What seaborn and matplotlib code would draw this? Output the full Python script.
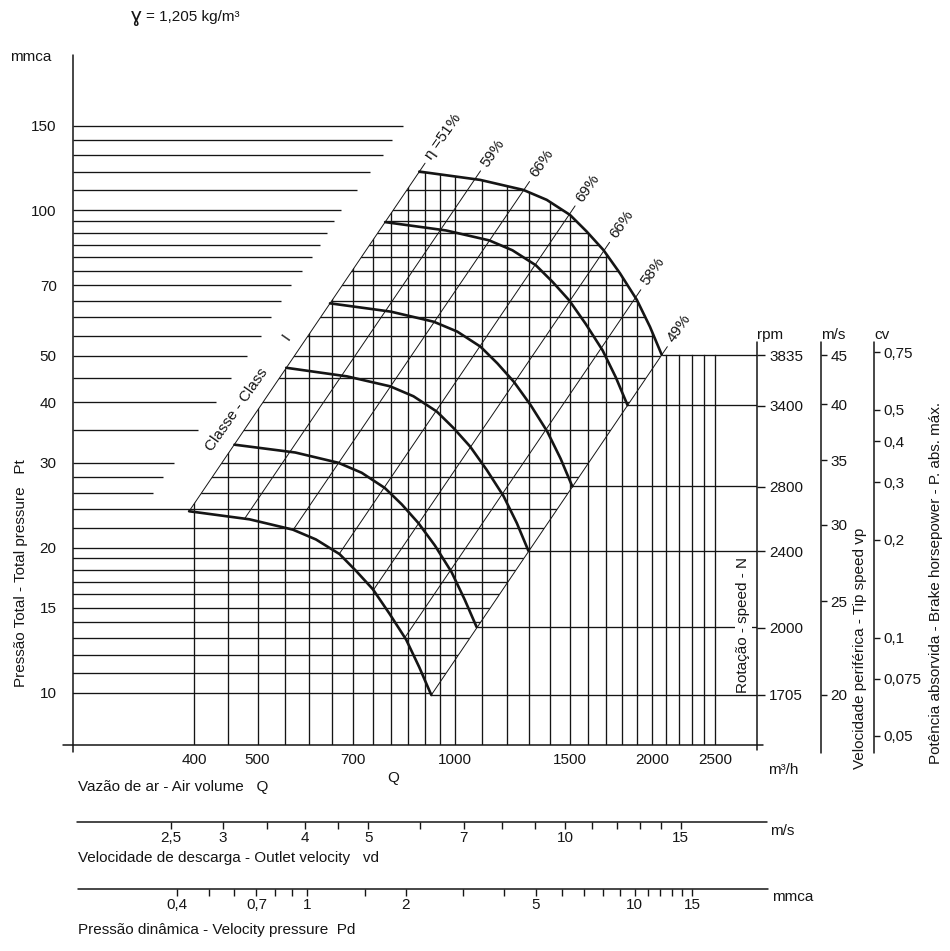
import numpy as np
import pandas as pd
import matplotlib.pyplot as plt
import seaborn as sns
from matplotlib.lines import Line2D
from matplotlib.patches import Polygon
from matplotlib.ticker import NullLocator, NullFormatter

W, H = 950, 951
INK = "#151515"

# fan curves, air volume Q (m3/h) vs total pressure Pt (mmca), one per speed
rpm_levels = [3835, 3400, 2800, 2400, 2000, 1705]
q_3835 = [883, 1094, 1273, 1382, 1500, 1591, 1687, 1788, 1897, 1987, 2071]
pt_3835 = [120.4, 115.7, 110.3, 105.2, 97.9, 90.4, 82.8, 74.1, 65.3, 57.4, 50.2]
q_3400 = [783, 970, 1129, 1225, 1330, 1411, 1496, 1585, 1682, 1762, 1836]
pt_3400 = [94.6, 90.9, 86.7, 82.7, 77.0, 71.1, 65.1, 58.2, 51.3, 45.1, 39.5]
q_2800 = [645, 799, 929, 1009, 1095, 1162, 1232, 1306, 1385, 1451, 1512]
pt_2800 = [64.2, 61.7, 58.8, 56.1, 52.2, 48.2, 44.1, 39.5, 34.8, 30.6, 26.8]
q_2400 = [553, 685, 797, 865, 939, 996, 1056, 1119, 1187, 1244, 1296]
pt_2400 = [47.2, 45.3, 43.2, 41.2, 38.3, 35.4, 32.4, 29.0, 25.6, 22.5, 19.7]
q_2000 = [461, 571, 664, 721, 782, 830, 880, 933, 989, 1036, 1080]
pt_2000 = [32.7, 31.5, 30.0, 28.6, 26.6, 24.6, 22.5, 20.2, 17.8, 15.6, 13.7]
q_1705 = [393, 486, 566, 614, 667, 707, 750, 795, 843, 883, 921]
pt_1705 = [23.8, 22.9, 21.8, 20.8, 19.4, 17.9, 16.4, 14.6, 12.9, 11.3, 9.9]

# efficiency lines (from the lowest curve up past the top curve)
eff_labels = ["\u03b7 =51%", "59%", "66%", "69%", "66%", "58%", "49%"]
eff_q_low = [393, 477.5, 567, 666, 751, 838.5, 921]
eff_pt_low = [23.8, 22.95, 21.8, 19.4, 16.33, 13.0, 9.9]
eff_q_high = [901, 1095, 1301, 1527, 1724, 1924, 2112]
eff_pt_high = [125.3, 120.8, 114.8, 102.2, 85.9, 68.5, 52.2]

# grid
grid_q = [400, 450, 500, 550, 600, 650, 700, 750, 800, 850, 900, 950, 1000,
          1100, 1200, 1300, 1400, 1500, 1600, 1700, 1800, 1900, 2000,
          2100, 2200, 2300, 2400, 2500]
grid_pt = [120, 110, 100, 95, 90, 85, 80, 75, 70, 65, 60, 55, 50, 45, 40, 35,
           30, 28, 26, 24, 22, 20, 19, 18, 17, 16, 15, 14, 13, 12, 11, 10]
stub_pt = [150, 140, 130, 120, 110, 100, 95, 90, 85, 80, 75, 70, 65, 60, 55,
           50, 45, 40, 35, 30, 28, 26]
stub_q_end = [833, 803, 776, 743, 709, 671, 655, 639, 623, 606, 584, 563, 543,
              524, 506, 482, 456, 432, 405, 373, 359, 346]

# scales
y_ticks = [10, 15, 20, 30, 40, 50, 70, 100, 150]
x_ticks = [400, 500, 700, 1000, 1500, 2000, 2500]
rpm_ticks = [1705, 2000, 2400, 2800, 3400, 3835]
tip_ticks = [20, 25, 30, 35, 40, 45]
cv_ticks = [0.05, 0.075, 0.1, 0.2, 0.3, 0.4, 0.5, 0.75]
cv_labels = ["0,05", "0,075", "0,1", "0,2", "0,3", "0,4", "0,5", "0,75"]
vd_ticks = [2.5, 3, 4, 5, 7, 10, 15]
vd_labels = ["2,5", "3", "4", "5", "7", "10", "15"]
vd_minor = [3.5, 4.5, 6, 8, 9, 11, 12, 13, 14]
pd_ticks = [0.4, 0.7, 1, 2, 5, 10, 15]
pd_labels = ["0,4", "0,7", "1", "2", "5", "10", "15"]
pd_minor = [0.5, 0.6, 0.8, 0.9, 1.5, 3, 4, 6, 7, 8, 9, 11, 12, 13, 14]

c_rpm = 3.41e-6            # Pt = c * N^2
rpm_per_tip = 3835 / 45    # rpm per m/s of tip speed
cv_ref, pt_cv_ref, cv_exp = 0.75, 50.8, 0.676
q_per_vd = 147.5           # m3/h per m/s outlet velocity
rho, g = 1.205, 9.81

sns.set_theme(style="white")
plt.rcParams["font.family"] = ["Liberation Sans", "DejaVu Sans"]
plt.rcParams["text.color"] = INK
FS = 11


def fx(x):
    return x / W


def fy(y):
    return 1 - y / H


fig = plt.figure(figsize=(W / 100, H / 100), dpi=100)
ax = fig.add_axes([fx(72.7), fy(745), (757.3 - 72.7) / W, 690 / H])
ax.set_xscale("log")
ax.set_yscale("log")
XL, YL = (261, 2898), (7.8, 210)

curves = pd.DataFrame({
    "rpm": np.repeat(rpm_levels, len(q_3835)),
    "Q": q_3835 + q_3400 + q_2800 + q_2400 + q_2000 + q_1705,
    "Pt": pt_3835 + pt_3400 + pt_2800 + pt_2400 + pt_2000 + pt_1705,
})
eff = pd.DataFrame({
    "line": np.tile(np.arange(len(eff_labels)), 2),
    "Q": eff_q_low + eff_q_high,
    "Pt": eff_pt_low + eff_pt_high,
})

# clip regions for the grid, built from the boundary curves
k51 = eff_pt_low[0] / eff_q_low[0] ** 2
k49 = eff_pt_low[-1] / eff_q_low[-1] ** 2
qa, qb = 200.0, 4000.0
h_region = ([(qa, 9.6), (qa, 24.6), (np.sqrt(24.6 / k51), 24.6)]
            + list(zip(q_3835, pt_3835)) + [(np.sqrt(9.6 / k49), 9.6)])
v_region = ([(np.sqrt(6.0 / k51), 6.0)] + list(zip(q_3835, pt_3835))
            + [(qb, pt_3835[-1]), (qb, 6.0)])
h_patch = Polygon(h_region, closed=True, transform=ax.transData)
v_patch = Polygon(v_region, closed=True, transform=ax.transData)

hl = ax.hlines(grid_pt, qa, qb, color=INK, lw=0.95)
hl.set_clip_path(h_patch)
vl = ax.vlines(grid_q, 6.0, 300, color=INK, lw=0.95)
vl.set_clip_path(v_patch)
ax.hlines(stub_pt, XL[0], stub_q_end, color=INK, lw=0.95)

# speed lines from each curve end to the rpm scale
ends = curves.groupby("rpm", sort=False).last()
ax.hlines(ends["Pt"], ends["Q"], XL[1], color=INK, lw=0.95)

sns.lineplot(data=eff, x="Q", y="Pt", units="line", estimator=None, sort=False,
             color=INK, lw=0.7, ax=ax, legend=False)
sns.lineplot(data=curves, x="Q", y="Pt", units="rpm", estimator=None, sort=False,
             color=INK, lw=1.9, ax=ax, legend=False)

for lab, q, p in zip(eff_labels, eff_q_high, eff_pt_high):
    ax.annotate(lab, xy=(q, p), xytext=(2.5, 4.0), textcoords="offset points",
                rotation=55, rotation_mode="anchor", ha="left", va="center",
                fontsize=FS)

ax.set_xlim(*XL)
ax.set_ylim(*YL)
ax.set_xlabel("")
ax.set_ylabel("")
for s in ax.spines.values():
    s.set_visible(False)
ax.xaxis.set_minor_locator(NullLocator())
ax.yaxis.set_minor_locator(NullLocator())
ax.set_yticks(y_ticks, labels=[str(v) for v in y_ticks])
ax.set_xticks(x_ticks, labels=[str(v) for v in x_ticks])
ax.tick_params(axis="y", direction="out", length=8, width=1.0, pad=3.5,
               labelsize=FS, colors=INK)
ax.tick_params(axis="x", length=0, pad=6, labelsize=FS, colors=INK)


# right-hand scales
def add_right(loc, fwd, inv, ticks, labels, length):
    sec = ax.secondary_yaxis(loc, functions=(fwd, inv))
    sec.set_yticks(ticks, labels=labels)
    sec.yaxis.set_minor_locator(NullLocator())
    sec.yaxis.set_minor_formatter(NullFormatter())
    sec.tick_params(axis="y", direction="out", length=length, width=1.0,
                    pad=2.5, labelsize=FS, colors=INK)
    for s in sec.spines.values():
        s.set_visible(False)
    return sec


add_right(1.0, lambda p: np.sqrt(np.clip(p, 1e-9, None) / c_rpm),
          lambda n: c_rpm * np.asarray(n, float) ** 2,
          rpm_ticks, [str(v) for v in rpm_ticks], 6)
add_right((820.7 - 72.7) / 684.6,
          lambda p: np.sqrt(np.clip(p, 1e-9, None) / c_rpm) / rpm_per_tip,
          lambda v: c_rpm * (np.asarray(v, float) * rpm_per_tip) ** 2,
          tip_ticks, [str(v) for v in tip_ticks], 4.5)
add_right((874 - 72.7) / 684.6,
          lambda p: cv_ref * (np.clip(p, 1e-9, None) / pt_cv_ref) ** (1 / cv_exp),
          lambda w: pt_cv_ref * (np.clip(np.asarray(w, float), 1e-9, None) / cv_ref) ** cv_exp,
          cv_ticks, cv_labels, 4.5)


# bottom scales
def add_bottom(loc, fwd, inv, ticks, labels, minor):
    sec = ax.secondary_xaxis(loc, functions=(fwd, inv))
    sec.set_xticks(ticks, labels=labels)
    sec.set_xticks(minor, minor=True)
    sec.xaxis.set_minor_formatter(NullFormatter())
    sec.tick_params(axis="x", which="both", direction="out", length=5,
                    width=1.0, pad=1.0, labelsize=FS, colors=INK)
    for s in sec.spines.values():
        s.set_visible(False)
    return sec


add_bottom((745 - 822.3) / 690, lambda q: np.asarray(q, float) / q_per_vd,
           lambda v: np.asarray(v, float) * q_per_vd, vd_ticks, vd_labels, vd_minor)
add_bottom((745 - 889.3) / 690,
           lambda q: rho * (np.asarray(q, float) / q_per_vd) ** 2 / (2 * g),
           lambda pd_: q_per_vd * np.sqrt(np.clip(pd_, 0, None) * 2 * g / rho),
           pd_ticks, pd_labels, pd_minor)


# axis lines
def rule(x1, y1, x2, y2, lw=1.1):
    fig.add_artist(Line2D([fx(x1), fx(x2)], [fy(y1), fy(y2)],
                          transform=fig.transFigure, color=INK, lw=lw))


rule(72.7, 55, 72.7, 752)
rule(63, 745, 763, 745)
rule(757.3, 341.7, 757.3, 750)
rule(820.7, 341.7, 820.7, 753)
rule(874, 341.7, 874, 753)
rule(76.7, 822.3, 766.7, 822.3)
rule(78, 889.3, 768, 889.3)

# texts
fig.text(fx(131), fy(16), "\u0263", fontsize=15, ha="left", va="center")
fig.text(fx(146), fy(17), "= 1,205 kg/m\u00b3", fontsize=FS, ha="left", va="center")
fig.text(fx(10), fy(57), "mmca", fontsize=FS, ha="left", va="center")
fig.text(fx(21), fy(573), "Press\u00e3o Total - Total pressure   Pt", rotation=90,
         fontsize=FS, ha="center", va="center")
fig.text(fx(757), fy(335), "rpm", fontsize=FS, ha="left", va="center")
fig.text(fx(821), fy(335), "m/s", fontsize=FS, ha="left", va="center")
fig.text(fx(874), fy(335), "cv", fontsize=FS, ha="left", va="center")
fig.text(fx(743.3), fy(625), "Rota\u00e7\u00e3o - speed - N", rotation=90, fontsize=FS,
         ha="center", va="center", zorder=5,
         bbox=dict(facecolor="white", edgecolor="none", pad=1.0))
fig.text(fx(860), fy(648), "Velocidade perif\u00e9rica - Tip speed vp", rotation=90,
         fontsize=FS, ha="center", va="center")
fig.text(fx(936), fy(583), "Pot\u00eancia absorvida - Brake horsepower - P. abs. m\u00e1x.",
         rotation=90, fontsize=FS, ha="center", va="center")
fig.text(fx(236.7), fy(410), "Classe - Class", rotation=55, fontsize=FS,
         ha="center", va="center", rotation_mode="anchor")
fig.text(fx(286.7), fy(336.7), "I", rotation=55, fontsize=FS,
         ha="center", va="center", rotation_mode="anchor")
fig.text(fx(768), fy(770), "m\u00b3/h", fontsize=FS, ha="left", va="center")
fig.text(fx(393.3), fy(778.3), "Q", fontsize=FS, ha="center", va="center")
fig.text(fx(78), fy(787), "Vaz\u00e3o de ar - Air volume   Q", fontsize=FS,
         ha="left", va="center")
fig.text(fx(770), fy(830.7), "m/s", fontsize=FS, ha="left", va="center")
fig.text(fx(78), fy(858.3), "Velocidade de descarga - Outlet velocity   vd",
         fontsize=FS, ha="left", va="center")
fig.text(fx(771.7), fy(897.3), "mmca", fontsize=FS, ha="left", va="center")
fig.text(fx(78), fy(930), "Press\u00e3o din\u00e2mica - Velocity pressure  Pd",
         fontsize=FS, ha="left", va="center")

fig.savefig("out.png", dpi=100, facecolor="white")
